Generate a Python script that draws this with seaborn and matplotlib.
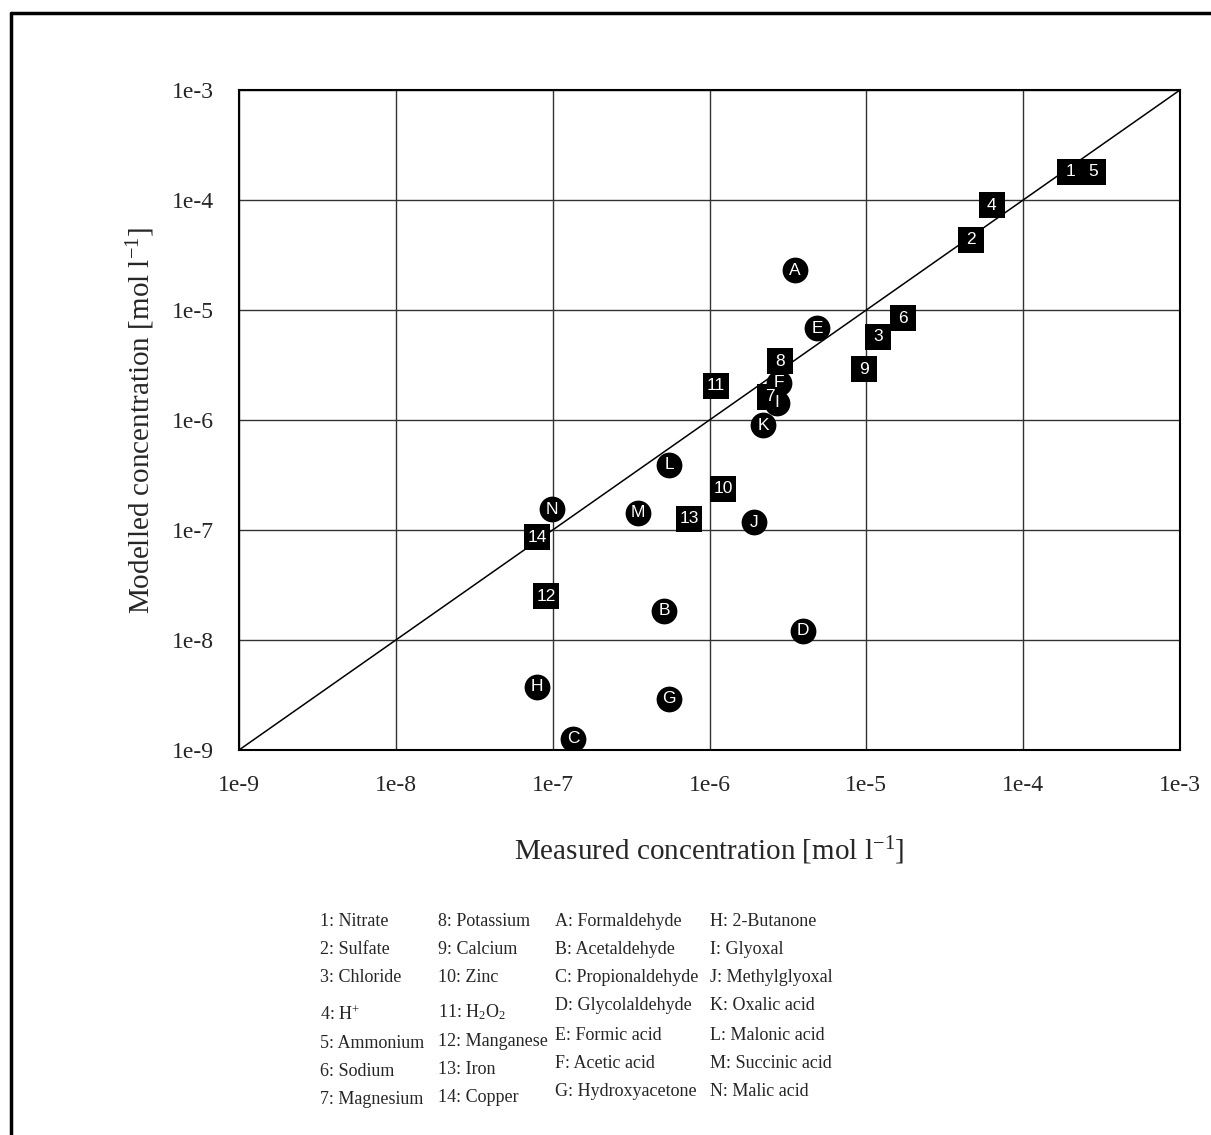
import matplotlib
matplotlib.use("Agg")
import matplotlib.pyplot as plt
from matplotlib.lines import Line2D
import seaborn as sns
import pandas as pd
import numpy as np

# Inorganic species (square markers)
ion_ids = ["1", "2", "3", "4", "5", "6", "7", "8", "9", "10", "11", "12", "13", "14"]
ion_measured = [2.0e-4, 4.66e-5, 1.19e-5, 6.3e-5, 2.79e-4, 1.72e-5, 2.42e-6,
                2.82e-6, 9.7e-6, 1.22e-6, 1.10e-6, 9.1e-8, 7.4e-7, 7.94e-8]
ion_modelled = [1.8e-4, 4.33e-5, 5.7e-6, 9.0e-5, 1.8e-4, 8.45e-6, 1.62e-6,
                3.43e-6, 2.9e-6, 2.36e-7, 2.04e-6, 2.5e-8, 1.26e-7, 8.6e-8]
ion_names = ["Nitrate", "Sulfate", "Chloride", r"H$^{+}$", "Ammonium", "Sodium",
             "Magnesium", "Potassium", "Calcium", "Zinc", r"H$_2$O$_2$",
             "Manganese", "Iron", "Copper"]

# Organic species (circle markers)
org_ids = ["A", "B", "C", "D", "E", "F", "G", "H", "I", "J", "K", "L", "M", "N"]
org_measured = [3.52e-6, 5.13e-7, 1.35e-7, 3.95e-6, 4.85e-6, 2.78e-6, 5.52e-7,
                7.94e-8, 2.7e-6, 1.92e-6, 2.2e-6, 5.52e-7, 3.5e-7, 9.9e-8]
org_modelled = [2.31e-5, 1.84e-8, 1.26e-9, 1.21e-8, 6.86e-6, 2.17e-6, 2.91e-9,
                3.74e-9, 1.43e-6, 1.18e-7, 9.0e-7, 3.9e-7, 1.43e-7, 1.55e-7]
org_names = ["Formaldehyde", "Acetaldehyde", "Propionaldehyde", "Glycolaldehyde",
             "Formic acid", "Acetic acid", "Hydroxyacetone", "2-Butanone",
             "Glyoxal", "Methylglyoxal", "Oxalic acid", "Malonic acid",
             "Succinic acid", "Malic acid"]

tick_values = [1e-9, 1e-8, 1e-7, 1e-6, 1e-5, 1e-4, 1e-3]
tick_labels = ["1e-9", "1e-8", "1e-7", "1e-6", "1e-5", "1e-4", "1e-3"]

sns.set_style("white")
plt.rcParams["font.family"] = ["Liberation Serif", "DejaVu Serif"]
plt.rcParams["mathtext.fontset"] = "custom"
plt.rcParams["mathtext.rm"] = "Liberation Serif"
plt.rcParams["mathtext.it"] = "Liberation Serif:italic"

W, H = 1211, 1135
fig = plt.figure(figsize=(W / 100, H / 100), dpi=100)
ax = fig.add_axes([239 / W, 1 - 750 / H, (1180 - 239) / W, (750 - 90) / H])

ions = pd.DataFrame({"id": ion_ids, "measured": ion_measured, "modelled": ion_modelled})
orgs = pd.DataFrame({"id": org_ids, "measured": org_measured, "modelled": org_modelled})

# 1:1 line
ax.plot([tick_values[0], tick_values[-1]], [tick_values[0], tick_values[-1]],
        color="black", lw=1.1, zorder=2)

label_font = dict(color="white", ha="center", va="center", fontsize=12.5,
                  family=["Liberation Sans", "DejaVu Sans"], zorder=6)

sns.scatterplot(data=ions, x="measured", y="modelled", marker="s", s=345,
                color="black", linewidth=0, ax=ax, zorder=3, legend=False)
sns.scatterplot(data=orgs, x="measured", y="modelled", marker="o", s=345,
                color="black", linewidth=0, ax=ax, zorder=4, legend=False)
for df in (ions, orgs):
    for _, r in df.iterrows():
        ax.text(r["measured"], r["modelled"], r["id"], **label_font)

ax.set_xscale("log")
ax.set_yscale("log")
ax.set_xlim(tick_values[0], tick_values[-1])
ax.set_ylim(tick_values[0], tick_values[-1])
ax.set_xticks(tick_values)
ax.set_yticks(tick_values)
ax.set_xticklabels(tick_labels)
ax.set_yticklabels(tick_labels)
ax.minorticks_off()
ax.tick_params(axis="both", which="major", direction="out", length=10, width=1.2,
               color="black", labelsize=17, pad=8)
ax.grid(True, which="major", color="#333333", lw=1.0)
ax.set_axisbelow(True)
for sp in ax.spines.values():
    sp.set_color("black")
    sp.set_linewidth(1.5)

ax.set_xlabel(r"Measured concentration [mol l$^{-1}$]", fontsize=21)
ax.set_ylabel(r"Modelled concentration [mol l$^{-1}$]", fontsize=21)
ax.xaxis.set_label_coords(0.5, -0.128)
ax.yaxis.set_label_coords(-0.087, 0.5)

# Key to the numbered and lettered species
col_x = [320, 438, 555, 710]
rows_a = [921, 949, 977, 1015, 1043, 1071, 1099]
rows_b = [921, 949, 977, 1012, 1042, 1070, 1098]
rows_c = [921, 949, 977, 1006, 1035, 1063, 1091]
key_font = dict(fontsize=13, ha="left", va="center")
for i in range(7):
    fig.text(col_x[0] / W, 1 - rows_a[i] / H, f"{ion_ids[i]}: {ion_names[i]}", **key_font)
    fig.text(col_x[1] / W, 1 - rows_b[i] / H, f"{ion_ids[i + 7]}: {ion_names[i + 7]}", **key_font)
    fig.text(col_x[2] / W, 1 - rows_c[i] / H, f"{org_ids[i]}: {org_names[i]}", **key_font)
    fig.text(col_x[3] / W, 1 - rows_c[i] / H, f"{org_ids[i + 7]}: {org_names[i + 7]}", **key_font)

# Page frame (left and top edges)
fig.add_artist(Line2D([11 / W, 11 / W], [0, 1 - 13 / H], transform=fig.transFigure,
                      color="black", lw=2.5))
fig.add_artist(Line2D([11 / W, 1], [1 - 13 / H, 1 - 13 / H], transform=fig.transFigure,
                      color="black", lw=2.5))

fig.savefig("out.png", dpi=100, facecolor="white")
